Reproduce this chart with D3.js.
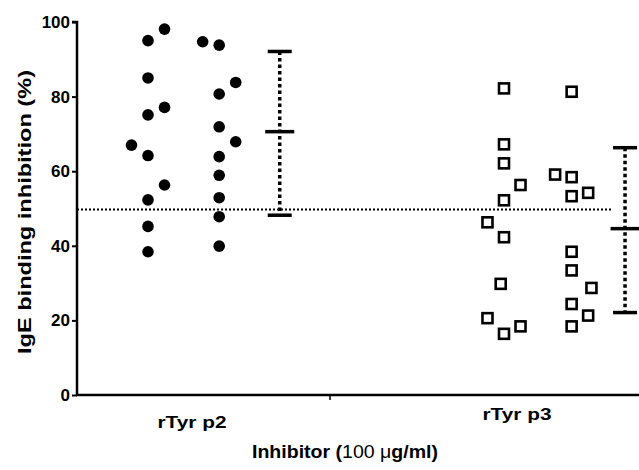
<!DOCTYPE html>
<html>
<head>
<meta charset="utf-8">
<script src="https://cdn.jsdelivr.net/npm/d3@7"></script>
<style>
  body { margin: 0; background: #fff; }
  text { font-family: "Liberation Sans", Arial, sans-serif; font-weight: bold; fill: #000; }
</style>
</head>
<body>
<svg id="chart" width="639" height="470"></svg>
<script>
// values (% inhibition)
const groups = ['rTyr p2', 'rTyr p3']
const yTicks = [0, 20, 40, 60, 80, 100]

// rTyr p2: two columns of points, jitter = sideways nudge (-1, 0, 1)
const p2Col1 = [98.1, 95.0, 85.0, 77.1, 75.1, 67.0, 64.2, 56.3, 52.3, 45.2, 38.4]
const p2Col1Jitter = [1, 0, 0, 1, 0, -1, 0, 1, 0, 0, 0]
const p2Col2 = [94.7, 93.8, 83.8, 80.7, 71.9, 67.9, 63.9, 58.9, 52.9, 47.8, 39.9]
const p2Col2Jitter = [-1, 0, 1, 0, 0, 1, 0, 0, 0, 0, 0]

// rTyr p3
const p3Col1 = [82.2, 67.2, 62.1, 56.3, 52.2, 46.3, 42.3, 29.8, 20.6, 18.4, 16.4]
const p3Col1Jitter = [0, 0, 0, 1, 0, -1, 0, -0.2, -1, 1, 0]
const p3Col2 = [81.3, 59.1, 58.4, 54.2, 53.3, 38.4, 33.4, 28.7, 24.4, 21.3, 18.4]
const p3Col2Jitter = [0, -1, 0, 1, 0, 0, 0, 1.2, 0, 1, 0]

// mean and error bar ends
const means = [70.6, 44.6]
const upper = [92.1, 66.3]
const lower = [48.2, 22.1]

const cutoff = 49.7

const svg = d3.select('#chart')

const y = d3.scaleLinear([0, 100], [395, 22])
// slots along the x axis: column 1 = 0, column 2 = 1, bar = 1.85, next group +5
const x = d3.scaleLinear([0, 5], [148, 504])
const jit = 0.232

function pts(vals, jitter, g, col) {
    return vals.map(function(v, i){
        return {v: v, slot: g * 5 + col + jitter[i] * jit}
    })
}
const circles = pts(p2Col1, p2Col1Jitter, 0, 0).concat(pts(p2Col2, p2Col2Jitter, 0, 1))
const squares = pts(p3Col1, p3Col1Jitter, 1, 0).concat(pts(p3Col2, p3Col2Jitter, 1, 0.95))
const barSlot = [1.85, 6.7]

// cutoff line
svg.append('line')
    .attr('x1', 77)
    .attr('x2', 611)
    .attr('y1', y(cutoff))
    .attr('y2', y(cutoff))
    .attr('stroke', '#000')
    .attr('stroke-width', 2)
    .attr('stroke-dasharray', '2,2')

// y axis
const yAxis = d3.axisLeft(y)
    .tickValues(yTicks)
    .tickSize(5)
    .tickPadding(2)
svg.append('g')
    .attr('transform', 'translate(77,0)')
    .call(yAxis)
    .call(function(g){
        g.select('.domain').attr('stroke-width', 2.5).attr('d', 'M-5,' + y(100) + 'H0V' + y(0))
        g.selectAll('.tick line').attr('stroke-width', 2)
        g.selectAll('.tick text').attr('font-size', '17px').attr('font-family', null)
    })

// x axis
svg.append('line')
    .attr('x1', 76).attr('x2', 639)
    .attr('y1', 395).attr('y2', 395)
    .attr('stroke', '#000').attr('stroke-width', 2.5)
svg.append('line')
    .attr('x1', 330).attr('x2', 330)
    .attr('y1', 395).attr('y2', 400)
    .attr('stroke', '#000').attr('stroke-width', 1.5)

svg.selectAll('.grp')
    .data(groups)
    .join('text')
    .attr('class', 'grp')
    .attr('x', function(d, i){ return [192, 517][i] })
    .attr('y', function(d, i){ return [428, 420][i] })
    .attr('text-anchor', 'middle')
    .attr('font-size', '17px')
    .attr('textLength', 69)
    .attr('lengthAdjust', 'spacingAndGlyphs')
    .text(function(d){ return d })

// error bars
svg.selectAll('.whisk')
    .data(groups)
    .join('line')
    .attr('class', 'whisk')
    .attr('x1', function(d, i){ return x(barSlot[i]) })
    .attr('x2', function(d, i){ return x(barSlot[i]) })
    .attr('y1', function(d, i){ return y(upper[i]) })
    .attr('y2', function(d, i){ return y(lower[i]) })
    .attr('stroke', '#000')
    .attr('stroke-width', 3.5)
    .attr('stroke-dasharray', '3.5,3')

const caps = []
groups.forEach(function(g, i){
    caps.push({slot: barSlot[i], v: upper[i], w: 24})
    caps.push({slot: barSlot[i], v: lower[i], w: 24})
    caps.push({slot: barSlot[i], v: means[i], w: 29})
})
svg.selectAll('.cap')
    .data(caps)
    .join('line')
    .attr('class', 'cap')
    .attr('x1', function(d){ return x(d.slot) - d.w / 2 })
    .attr('x2', function(d){ return x(d.slot) + d.w / 2 })
    .attr('y1', function(d){ return y(d.v) })
    .attr('y2', function(d){ return y(d.v) })
    .attr('stroke', '#000')
    .attr('stroke-width', 3.5)

// points
svg.selectAll('.dot')
    .data(circles)
    .join('circle')
    .attr('class', 'dot')
    .attr('cx', function(d){ return x(d.slot) })
    .attr('cy', function(d){ return y(d.v) })
    .attr('r', 5.8)
    .attr('fill', '#000')

svg.selectAll('.sq')
    .data(squares)
    .join('rect')
    .attr('class', 'sq')
    .attr('x', function(d){ return x(d.slot) - 5 })
    .attr('y', function(d){ return y(d.v) - 5 })
    .attr('width', 10)
    .attr('height', 10)
    .attr('fill', '#fff')
    .attr('stroke', '#000')
    .attr('stroke-width', 2.6)

// titles
svg.append('text')
    .attr('transform', 'translate(31,' + 212 + ') rotate(-90)')
    .attr('text-anchor', 'middle')
    .attr('font-size', '19px')
    .attr('textLength', 284)
    .attr('lengthAdjust', 'spacingAndGlyphs')
    .text('IgE binding inhibition (%)')

const xt = svg.append('text')
    .attr('x', 345)
    .attr('y', 458)
    .attr('text-anchor', 'middle')
    .attr('font-size', '18px')
    .attr('textLength', 186)
    .attr('lengthAdjust', 'spacingAndGlyphs')
xt.append('tspan').text('Inhibitor (')
xt.append('tspan').attr('font-weight', 'normal').text('100 μ')
xt.append('tspan').text('g/ml)')
</script>
</body>
</html>
